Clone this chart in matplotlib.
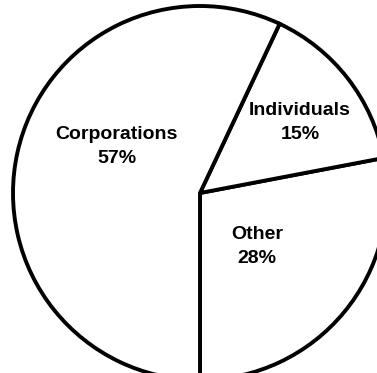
import matplotlib.pyplot as plt

# share of holdings (percent), drawn counter-clockwise starting at the bottom
categories = ["Other", "Individuals", "Corporations"]
shares = [28, 15, 57]

# label centres in axis units (pie radius = 1)
label_pos = {
    "Corporations": (-0.445, 0.25),
    "Individuals": (0.535, 0.375),
    "Other": (0.305, -0.287),
}

fig = plt.figure(figsize=(3.77, 3.73), dpi=100)
ax = fig.add_axes([0, 0, 1, 1])

wedges, _ = ax.pie(shares, startangle=270, counterclock=True, radius=1,
                   colors=["white"] * len(shares),
                   wedgeprops=dict(edgecolor="black", linewidth=2.8))

for cat, val in zip(categories, shares):
    x, y = label_pos[cat]
    ax.text(x, y, f"{cat}\n{val}%", ha="center", va="center",
            multialignment="center", fontsize=14, fontweight="bold",
            family="Liberation Sans", linespacing=1.55)

ax.set_xlim(-200 / 187, 177 / 187)
ax.set_ylim(-180 / 187, 193 / 187)
ax.set_aspect("auto")
ax.axis("off")

fig.savefig("out.png", dpi=100, facecolor="white")
